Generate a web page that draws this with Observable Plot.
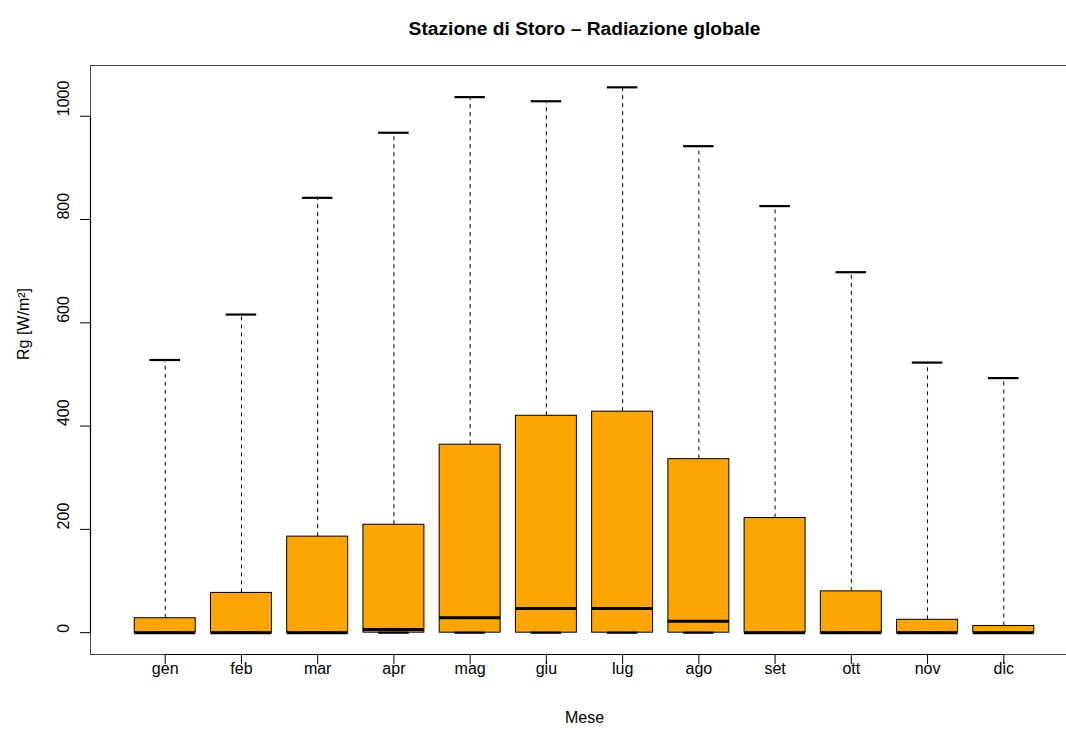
<!DOCTYPE html>
<html>
<head>
<meta charset="utf-8">
<script src="https://cdn.jsdelivr.net/npm/d3@7"></script>
<script src="https://cdn.jsdelivr.net/npm/@observablehq/plot@0.6"></script>
<style>
  html, body { margin: 0; padding: 0; background: #fff; }
  #wrap { width: 1066px; height: 731px; overflow: hidden; background: #fff; }
  #wrap svg { max-width: none !important; display: block; }
</style>
</head>
<body>
<div id="wrap"></div>
<script>
// ---- data ----
const months = ["gen", "feb", "mar", "apr", "mag", "giu", "lug", "ago", "set", "ott", "nov", "dic"];
const lowerWhisker = [0, 0, 0, 0, 0, 0, 0, 0, 0, 0, 0, 0];
const q1 = [0, 0, 0, 0, 0, 0, 0, 0, 0, 0, 0, 0];
const median = [0, 0, 0, 6, 29, 47, 47, 22, 0, 0, 0, 0];
const q3 = [28, 77, 186, 209, 364, 420, 428, 336, 222, 80, 25, 13];
const upperWhisker = [528, 616, 842, 968, 1037, 1029, 1056, 942, 826, 698, 523, 493];
const yTicks = [0, 200, 400, 600, 800, 1000];
const titleText = "Stazione di Storo \u2013 Radiazione globale";
const xLabel = "Mese";
const yLabel = "Rg [W/m\u00B2]";

const data = months.map((m, i) => ({
  pos: i + 1, month: m,
  lo: lowerWhisker[i], q1: q1[i], med: median[i], q3: q3[i], hi: upperWhisker[i]
}));

// R-style axis ranges (4% expansion)
const n = months.length;
const xd = [0.5, n + 0.5];
const xpad = (xd[1] - xd[0]) * 0.04;
const ymax = d3.max(upperWhisker), ymin = 0;
const ypad = (ymax - ymin) * 0.04;
const xDomain = [xd[0] - xpad, xd[1] + xpad];
const yDomain = [ymin - ypad, ymax + ypad];

const boxHalf = 0.4, capHalf = 0.2;

const chart = Plot.plot({
  width: 1078,
  height: 731,
  marginLeft: 90,
  marginRight: 0,
  marginTop: 65,
  marginBottom: 77,
  x: { domain: xDomain, axis: null },
  y: { domain: yDomain, axis: null },
  style: { fontFamily: "'Liberation Sans', Arial, Helvetica, sans-serif", fontSize: "16px", background: "white", maxWidth: "none", color: "black" },
  marks: [
    // whiskers
    Plot.ruleX(data, { x: "pos", y1: "q3", y2: "hi", stroke: "black", strokeWidth: 1, strokeDasharray: "4,4" }),
    Plot.ruleX(data, { x: "pos", y1: "lo", y2: "q1", stroke: "black", strokeWidth: 1, strokeDasharray: "4,4" }),
    // boxes
    Plot.rect(data, { x1: d => d.pos - boxHalf, x2: d => d.pos + boxHalf, y1: "q1", y2: "q3", fill: "#FFA500", stroke: "black", strokeWidth: 1 }),
    // staples
    Plot.ruleY(data, { y: "hi", x1: d => d.pos - capHalf, x2: d => d.pos + capHalf, stroke: "black", strokeWidth: 2.2 }),
    Plot.ruleY(data, { y: "lo", x1: d => d.pos - capHalf, x2: d => d.pos + capHalf, stroke: "black", strokeWidth: 2.2 }),
    // medians
    Plot.ruleY(data, { y: "med", x1: d => d.pos - boxHalf, x2: d => d.pos + boxHalf, stroke: "black", strokeWidth: 3 }),
    // frame (box around plot region)
    Plot.frame({ stroke: "#444", strokeWidth: 1 }),
    // axis lines spanning first..last tick (as R draws them)
    Plot.ruleY([yDomain[0]], { x1: 1, x2: n, stroke: "black", strokeWidth: 1.2 }),
    Plot.ruleX([xDomain[0]], { y1: yTicks[0], y2: yTicks[yTicks.length - 1], stroke: "black", strokeWidth: 1.2 }),
    // axes ticks
    Plot.axisY({ ticks: yTicks, tickSize: 10, tickFormat: () => "", label: null, stroke: "black" }),
    Plot.axisX({ ticks: d3.range(1, n + 1), tickSize: 10, tickFormat: () => "", label: null, stroke: "black" }),
    // tick labels
    Plot.text(yTicks, { y: d => d, text: d => String(d), frameAnchor: "left", dx: -27, rotate: -90, fontSize: 16, fill: "black" }),
    Plot.text(data, { x: "pos", text: "month", frameAnchor: "bottom", dy: 19, fontSize: 16, fill: "black" }),
    // axis titles and main title
    Plot.text([xLabel], { frameAnchor: "bottom", dy: 68, fontSize: 16, fill: "black" }),
    Plot.text([yLabel], { frameAnchor: "left", dx: -67, rotate: -90, fontSize: 16, fill: "black" }),
    Plot.text([titleText], { frameAnchor: "top", dy: -44, fontSize: 19.2, fontWeight: "bold", fill: "black" })
  ]
});

document.getElementById("wrap").appendChild(chart);
</script>
</body>
</html>
